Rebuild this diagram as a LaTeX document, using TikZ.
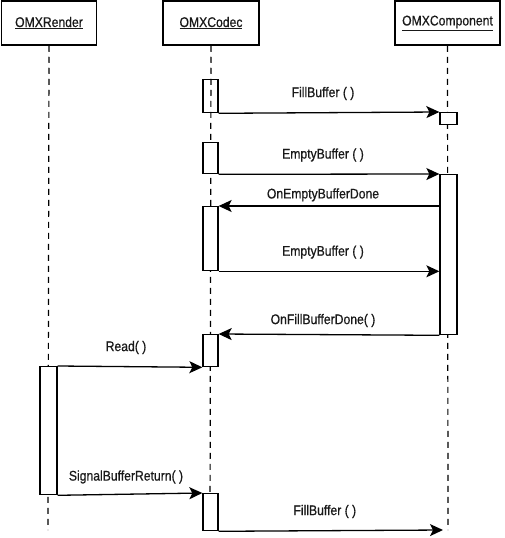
\documentclass[tikz,border=0pt]{standalone}
\usepackage{fontspec}
\setmainfont{Liberation Sans}[FakeStretch=0.87,FakeBold=0.7]
\usetikzlibrary{arrows.meta}
\begin{document}
\begin{tikzpicture}[x=1pt,y=-1pt,
  every node/.style={font=\fontsize{14}{16}\selectfont,text=black!90},
  head/.style={draw,line width=1.5pt,minimum height=44pt,inner sep=0pt},
  act/.style={draw,fill=white,line width=1.3pt,minimum width=15pt,inner sep=0pt,anchor=north},
  life/.style={dashed,dash pattern=on 6pt off 5pt,line width=1.2pt},
  msg/.style={line width=1.3pt,-{Stealth[length=13pt,width=12pt,inset=3pt]}},
  lbl/.style={inner sep=1pt,xshift=-6pt}]
\useasboundingbox (0,0) rectangle (504,538);
% headers
\node[head,minimum width=95pt] (hr) at (49,23) {\underline{OMXRender}};
\node[head,minimum width=96pt] (hc) at (211,23) {\underline{OMXCodec}};
\node[head,minimum width=105pt] (hk) at (447.5,23) {\underline{OMXComponent}};
% lifeline ends
\coordinate (re) at (48,530);
\coordinate (ce) at (210,530);
\coordinate (ke) at (448,530);
\draw[life] (hr.south) -- (re);
\draw[life] (hc.south) -- (ce);
\draw[life] (hk.south) -- (ke);
% activation boxes
\node[act,fill=none,minimum height=33pt] (c1) at (210.5,79) {};
\node[act,minimum height=31pt] (c2) at (210.5,142) {};
\node[act,minimum height=64pt] (c3) at (210.5,206) {};
\node[act,minimum height=32pt] (c4) at (210.5,334) {};
\node[act,minimum height=37pt] (c5) at (210.5,493) {};
\node[act,minimum width=17pt,minimum height=12pt] (k1) at (448.5,112) {};
\node[act,minimum width=17pt,minimum height=160pt] (k2) at (448.5,174) {};
\node[act,minimum width=17pt,minimum height=128pt] (r1) at (48.5,366) {};
% messages
\coordinate (fbend) at (443,530);
\draw[msg] (c1.south east) -- (k1.north west) node[lbl,midway,above=11pt] {FillBuffer ( )};
\draw[msg] (c2.south east) -- (k2.north west) node[lbl,midway,above=11pt] {EmptyBuffer ( )};
\draw[msg] (k2.west |- c3.north) -- (c3.north east) node[lbl,midway,above=3pt] {OnEmptyBufferDone};
\draw[msg] (c3.south east) -- (k2.west |- c3.south) node[lbl,midway,above=11pt] {EmptyBuffer ( )};
\draw[msg] (k2.south west) -- (c4.north east) node[lbl,midway,above=6pt] {OnFillBufferDone( )};
\draw[msg] (r1.north east) -- (c4.south west) node[lbl,midway,above=11pt,xshift=2pt] {Read( )};
\draw[msg] (r1.south east) -- (c5.north west) node[lbl,midway,above=9pt,xshift=2pt] {SignalBufferReturn( )};
\draw[msg] (c5.south east) -- (fbend) node[lbl,midway,above=11pt] {FillBuffer ( )};
\end{tikzpicture}
\end{document}
